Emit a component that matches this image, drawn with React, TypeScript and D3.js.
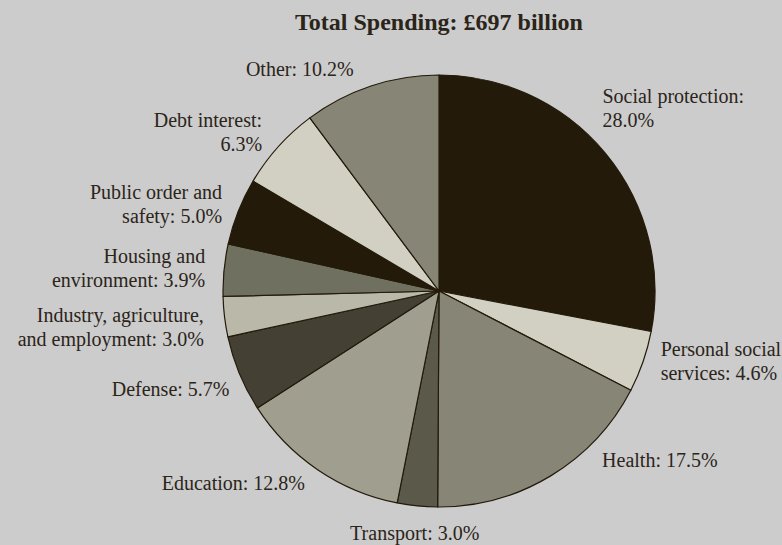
import React from "react";
import * as d3 from "d3";

const categories = [
  "Social protection",
  "Personal social services",
  "Health",
  "Transport",
  "Education",
  "Defense",
  "Industry, agriculture, and employment",
  "Housing and environment",
  "Public order and safety",
  "Debt interest",
  "Other",
];
const shares = [28.0, 4.6, 17.5, 3.0, 12.8, 5.7, 3.0, 3.9, 5.0, 6.3, 10.2];
const labelLines = [
  ["Social protection:", "28.0%"],
  ["Personal social", "services: 4.6%"],
  ["Health: 17.5%"],
  ["Transport: 3.0%"],
  ["Education: 12.8%"],
  ["Defense: 5.7%"],
  ["Industry, agriculture,", "and employment: 3.0%"],
  ["Housing and", "environment: 3.9%"],
  ["Public order and", "safety: 5.0%"],
  ["Debt interest:", "6.3%"],
  ["Other: 10.2%"],
];
const title = "Total Spending: £697 billion";

// styling
const sliceColors = [
  "#231a0a", "#d2d0c3", "#878676", "#5b594a", "#a09e8e", "#454034",
  "#bab8a8", "#707060", "#231a0a", "#d2d0c3", "#878676",
];
const labelAnchors = ["start", "start", "start", "middle", "end", "end", "end", "end", "end", "end", "middle"];
const labelNudges: [number, number][] = [
  [-23, -34], [-7, -14], [38, -31], [0, 8], [2, -1], [14, 12],
  [5, 2], [7, -4], [8, -3], [3, -2], [-63, 15],
];

const W = 782;
const H = 545;
const cx = 439;
const cy = 291;
const R = 216;
const textColor = "#2b2419";
const font = "'Liberation Serif', 'Times New Roman', serif";

export default function App() {
  const data = categories.map((c, i) => ({ c, v: shares[i], i }));
  const pie = d3.pie<any>().value((d) => d.v).sort(null);
  const arcs = pie(data);
  const arc = d3.arc<any>().innerRadius(0).outerRadius(R);
  const labelArc = d3.arc<any>().innerRadius(R * 1.12).outerRadius(R * 1.12);

  return (
    <div style={{ position: "fixed", left: 0, top: 0, width: W, height: H, background: "#cccccc" }}>
      <svg width={W} height={H} style={{ display: "block" }}>
        <rect x={0} y={0} width={W} height={H} fill="#cccccc" />
        <text
          x={cx}
          y={30}
          textAnchor="middle"
          fontFamily={font}
          fontWeight="bold"
          fontSize={24}
          fill={textColor}
        >
          {title}
        </text>
        <g transform={`translate(${cx},${cy})`}>
          {arcs.map((a, i) => (
            <path
              key={i}
              d={arc(a) as string}
              fill={sliceColors[i]}
              stroke="#231a0a"
              strokeWidth={1.2}
              strokeLinejoin="round"
            />
          ))}
          {arcs.map((a, i) => {
            const [bx, by] = labelArc.centroid(a);
            const x = bx + labelNudges[i][0];
            const y = by + labelNudges[i][1];
            return (
              <text
                key={"l" + i}
                x={x}
                y={y}
                textAnchor={labelAnchors[i]}
                fontFamily={font}
                fontSize={20}
                fill={textColor}
              >
                {labelLines[i].map((ln, j) => (
                  <tspan key={j} x={x} dy={j === 0 ? 0 : 24}>
                    {ln}
                  </tspan>
                ))}
              </text>
            );
          })}
        </g>
      </svg>
    </div>
  );
}
